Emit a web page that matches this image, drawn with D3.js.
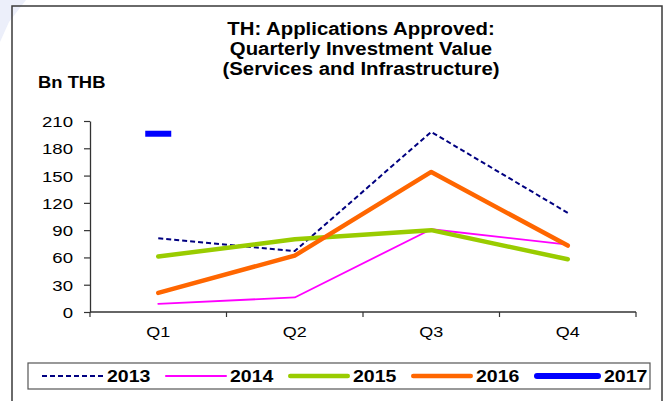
<!DOCTYPE html>
<html>
<head>
<meta charset="utf-8">
<script src="https://cdn.jsdelivr.net/npm/d3@7"></script>
<style>
  body { margin: 0; background: #fff; }
  svg { display: block; font-family: "Liberation Sans", Arial, sans-serif; }
</style>
</head>
<body>
<svg id="chart" width="668" height="401"></svg>
<script>
// data
const quarters = ["Q1", "Q2", "Q3", "Q4"];
const years = ["2013", "2014", "2015", "2016", "2017"];
const v2013 = [81, 67, 198, 109];
const v2014 = [9, 16, 91, 74];
const v2015 = [61, 80, 90, 58];
const v2016 = [21, 62, 154, 73];
const v2017 = [196, null, null, null];
const yTicks = [0, 30, 60, 90, 120, 150, 180, 210];
const titleLines = ["TH: Applications Approved:", "Quarterly Investment Value", "(Services and Infrastructure)"];

const seriesStyle = {
  "2013": { color: "#000080", width: 2, dash: "5,3" },
  "2014": { color: "#ff00ff", width: 1.8, dash: null },
  "2015": { color: "#99cc00", width: 4.5, dash: null },
  "2016": { color: "#ff6600", width: 4.5, dash: null },
  "2017": { color: "#0000ff", width: 6, dash: null }
};
const values = { "2013": v2013, "2014": v2014, "2015": v2015, "2016": v2016, "2017": v2017 };

const svg = d3.select("#chart");

// faint watermark in the corner
svg.append("polygon")
  .attr("points", "0,0 26,0 9,22 0,42")
  .attr("fill", "#eceffa");

// outer frame
svg.append("rect")
  .attr("x", 12).attr("y", 6)
  .attr("width", 650).attr("height", 430)
  .attr("fill", "none")
  .attr("stroke", "#3a3a3a")
  .attr("stroke-width", 1.5);

// text in the source is a bit stretched sideways
function stretchedText(g, x, y, txt, size, weight, anchor, sx) {
  return g.append("text")
    .attr("transform", `translate(${x},${y}) scale(${sx},1)`)
    .attr("text-anchor", anchor)
    .attr("font-size", size)
    .attr("font-weight", weight)
    .attr("fill", "#000")
    .text(txt);
}

titleLines.forEach((t, i) => {
  stretchedText(svg, 361, 35 + i * 20, t, 18.5, "bold", "middle", 1.1);
});
stretchedText(svg, 38, 88, "Bn THB", 16, "bold", "start", 1.15);

// scales
const x = d3.scaleBand().domain(quarters).range([90, 636]);
const cx = q => x(q) + x.bandwidth() / 2;
const y = d3.scaleLinear().domain([0, 210]).range([312, 121]);

// y axis
const yAxis = svg.append("g")
  .attr("transform", "translate(90,0)")
  .call(d3.axisLeft(y).tickValues(yTicks).tickSize(6).tickSizeOuter(0));
yAxis.select(".domain").attr("stroke", "#333").attr("stroke-width", 1.3);
yAxis.selectAll(".tick line").attr("stroke", "#333").attr("stroke-width", 1.2);
yAxis.selectAll(".tick text")
  .attr("x", null).attr("dy", null)
  .attr("transform", "translate(-17,5.5) scale(1.2,1)")
  .attr("font-size", 15.5)
  .attr("font-family", "Liberation Sans, Arial, sans-serif")
  .attr("fill", "#000");

// x axis: ticks on band edges
const xAxis = svg.append("g").attr("transform", "translate(0,312)");
xAxis.append("line")
  .attr("x1", 90).attr("x2", 636)
  .attr("stroke", "#333").attr("stroke-width", 1.3);
const edges = quarters.map(q => x(q)).concat([x.range()[1]]);
xAxis.selectAll("line.tk").data(edges).enter().append("line")
  .attr("class", "tk")
  .attr("x1", d => d).attr("x2", d => d)
  .attr("y1", 0).attr("y2", 5)
  .attr("stroke", "#333").attr("stroke-width", 1.2);
quarters.forEach(q => {
  stretchedText(xAxis, cx(q), 25, q, 15.5, "normal", "middle", 1.16);
});

// series lines
const line = d3.line()
  .defined(d => d.v !== null)
  .x(d => cx(d.q))
  .y(d => y(d.v));

["2013", "2014", "2015", "2016"].forEach(yr => {
  const st = seriesStyle[yr];
  const pts = quarters.map((q, i) => ({ q: q, v: values[yr][i] }));
  svg.append("path")
    .datum(pts)
    .attr("d", line)
    .attr("fill", "none")
    .attr("stroke", st.color)
    .attr("stroke-width", st.width)
    .attr("stroke-dasharray", st.dash)
    .attr("stroke-linejoin", "round")
    .attr("stroke-linecap", st.dash ? "butt" : "round");
});

// 2017 has only one point, drawn as a short dash marker
quarters.forEach((q, i) => {
  const v = v2017[i];
  if (v === null) return;
  svg.append("rect")
    .attr("x", cx(q) - 13).attr("y", y(v) - 3)
    .attr("width", 26).attr("height", 6)
    .attr("fill", seriesStyle["2017"].color);
});

// legend
const leg = svg.append("g");
leg.append("rect")
  .attr("x", 28).attr("y", 363)
  .attr("width", 622).attr("height", 26)
  .attr("fill", "#fff")
  .attr("stroke", "#555")
  .attr("stroke-width", 1.2);
years.forEach((yr, i) => {
  const st = seriesStyle[yr];
  const x0 = 42 + i * 123;
  const w = i === 4 ? 67 : 62;
  const cap = st.dash ? 0 : st.width / 2;
  leg.append("line")
    .attr("x1", x0 + cap).attr("x2", x0 + w - cap)
    .attr("y1", 376).attr("y2", 376)
    .attr("stroke", st.color)
    .attr("stroke-width", st.width)
    .attr("stroke-dasharray", st.dash)
    .attr("stroke-linecap", st.dash ? "butt" : "round");
  stretchedText(leg, x0 + w + 3, 382, yr, 16, "bold", "start", 1.22);
});
</script>
</body>
</html>
